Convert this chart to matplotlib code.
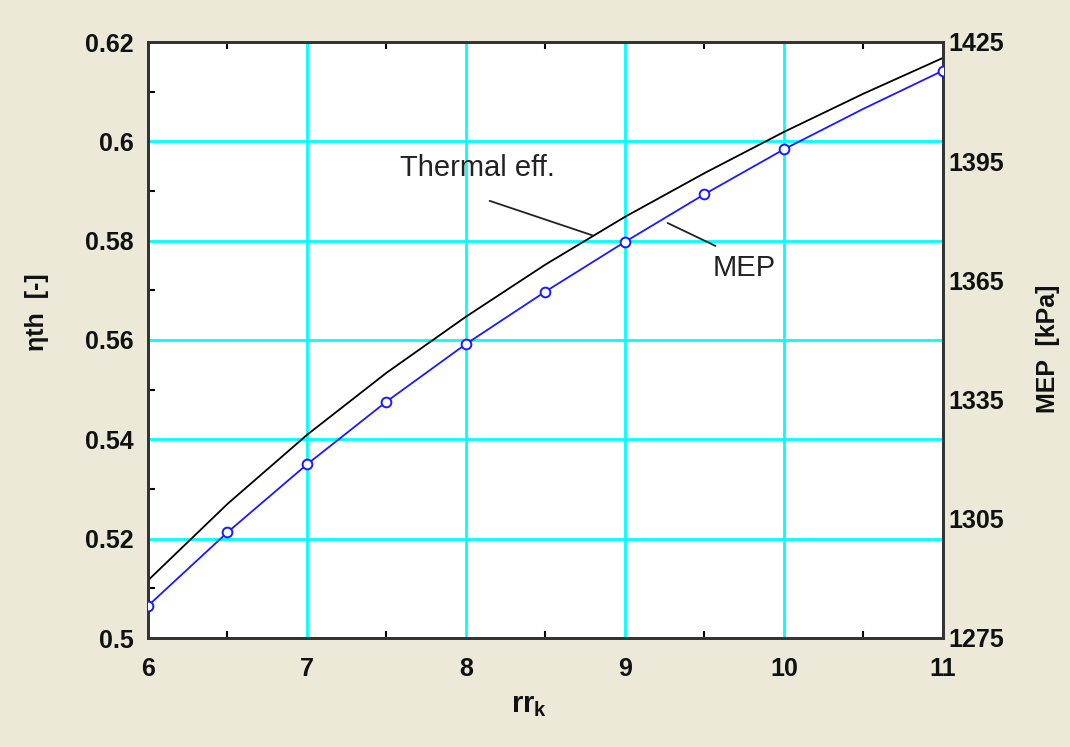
import matplotlib
matplotlib.use("Agg")
import matplotlib.pyplot as plt
from matplotlib.ticker import MultipleLocator

plt.rcParams['font.family'] = ['Liberation Sans', 'DejaVu Sans']
plt.rcParams['mathtext.fontset'] = 'custom'
plt.rcParams['mathtext.rm'] = 'Liberation Sans'
plt.rcParams['mathtext.bf'] = 'Liberation Sans:bold'
plt.rcParams['mathtext.it'] = 'Liberation Sans:italic'

# ---- data ----
rr_k = [6.0, 6.5, 7.0, 7.5, 8.0, 8.5, 9.0, 9.5, 10.0, 10.5, 11.0]
eta_th = [0.5116, 0.5270, 0.5409, 0.5534, 0.5647, 0.5752, 0.5848, 0.5936, 0.6019, 0.6096, 0.6168]
mep_kpa = [1283.1, 1301.6, 1318.7, 1334.5, 1349.0, 1362.2, 1374.7, 1386.7, 1398.0, 1408.2, 1417.8]
mep_marker_idx = [0, 1, 2, 3, 4, 5, 6, 7, 8, 10]

x_ticks = [6, 7, 8, 9, 10, 11]
y_left_ticks = [0.5, 0.52, 0.54, 0.56, 0.58, 0.6, 0.62]
y_left_labels = ['0.5', '0.52', '0.54', '0.56', '0.58', '0.6', '0.62']
y_right_ticks = [1275, 1305, 1335, 1365, 1395, 1425]

BG = '#ECE9D8'
W, H = 1070, 747
fig = plt.figure(figsize=(W / 100, H / 100), dpi=100, facecolor=BG)
ax = fig.add_axes([148 / W, 1 - 638 / H, (943 - 148) / W, (638 - 42) / H])
ax.set_facecolor('white')

ax.set_xlim(6, 11)
ax.set_ylim(0.5, 0.62)

# grid (cyan) at interior major positions
for xv in x_ticks[1:-1]:
    ax.axvline(xv, color='#00FFFF', lw=2.0, zorder=1)
for yv in y_left_ticks[1:-1]:
    ax.axhline(yv, color='#00FFFF', lw=2.0, zorder=1)

ax.plot(rr_k, eta_th, color='black', lw=1.3, zorder=3)

ax.set_xticks(x_ticks)
ax.set_xticklabels([str(v) for v in x_ticks])
ax.set_yticks(y_left_ticks)
ax.set_yticklabels(y_left_labels)
ax.xaxis.set_minor_locator(MultipleLocator(0.5))
ax.yaxis.set_minor_locator(MultipleLocator(0.01))
ax.tick_params(axis='both', which='both', direction='in', top=True, right=False,
               labelsize=18)
ax.tick_params(which='major', length=0, pad=10)
ax.tick_params(which='minor', length=5, width=1.5)
ax.tick_params(axis='x', which='major', pad=14)
for lab in ax.get_xticklabels() + ax.get_yticklabels():
    lab.set_fontweight('bold')
    lab.set_color('#111111')

for s in ax.spines.values():
    s.set_linewidth(2.0)
    s.set_color('#333333')

ax2 = ax.twinx()
ax2.set_ylim(1275, 1425)
ax2.plot(rr_k, mep_kpa, color='#1a1aff', lw=1.3, marker='o', markersize=7,
         markerfacecolor='white', markeredgecolor='#1a1aff', markeredgewidth=1.4,
         markevery=mep_marker_idx, zorder=4)
ax2.set_yticks(y_right_ticks)
ax2.set_yticklabels([str(v) for v in y_right_ticks])
ax2.tick_params(axis='y', length=0, pad=4, labelsize=18)
for lab in ax2.get_yticklabels():
    lab.set_fontweight('bold')
    lab.set_color('#111111')
for s in ax2.spines.values():
    s.set_linewidth(2.0)
    s.set_color('#333333')

# annotations
ax.text(7.585, 0.5946, 'Thermal eff.', fontsize=21, color='#222222',
        ha='left', va='center', zorder=5)
ax.annotate('', xy=(8.811, 0.5809), xytext=(8.132, 0.5882),
            arrowprops=dict(arrowstyle='-', color='#222222', lw=1.3), zorder=5)
ax.text(9.553, 0.5745, 'MEP', fontsize=21, color='#222222',
        ha='left', va='center', zorder=5)
ax.annotate('', xy=(9.585, 0.5787), xytext=(9.252, 0.5838),
            arrowprops=dict(arrowstyle='-', color='#222222', lw=1.3), zorder=5)

# axis labels
fig.text(529 / W, 1 - 705 / H, r'$\mathbf{rr_k}$', fontsize=21, ha='center',
         va='center', color='#111111')
fig.text(37 / W, 1 - 312 / H, 'ηth  [-]', fontsize=18, fontweight='bold',
         rotation=90, ha='center', va='center', color='#111111')
fig.text(1048 / W, 1 - 349 / H, 'MEP  [kPa]', fontsize=18, fontweight='bold',
         rotation=90, ha='center', va='center', color='#111111')

fig.savefig('out.png', dpi=100, facecolor=BG)
